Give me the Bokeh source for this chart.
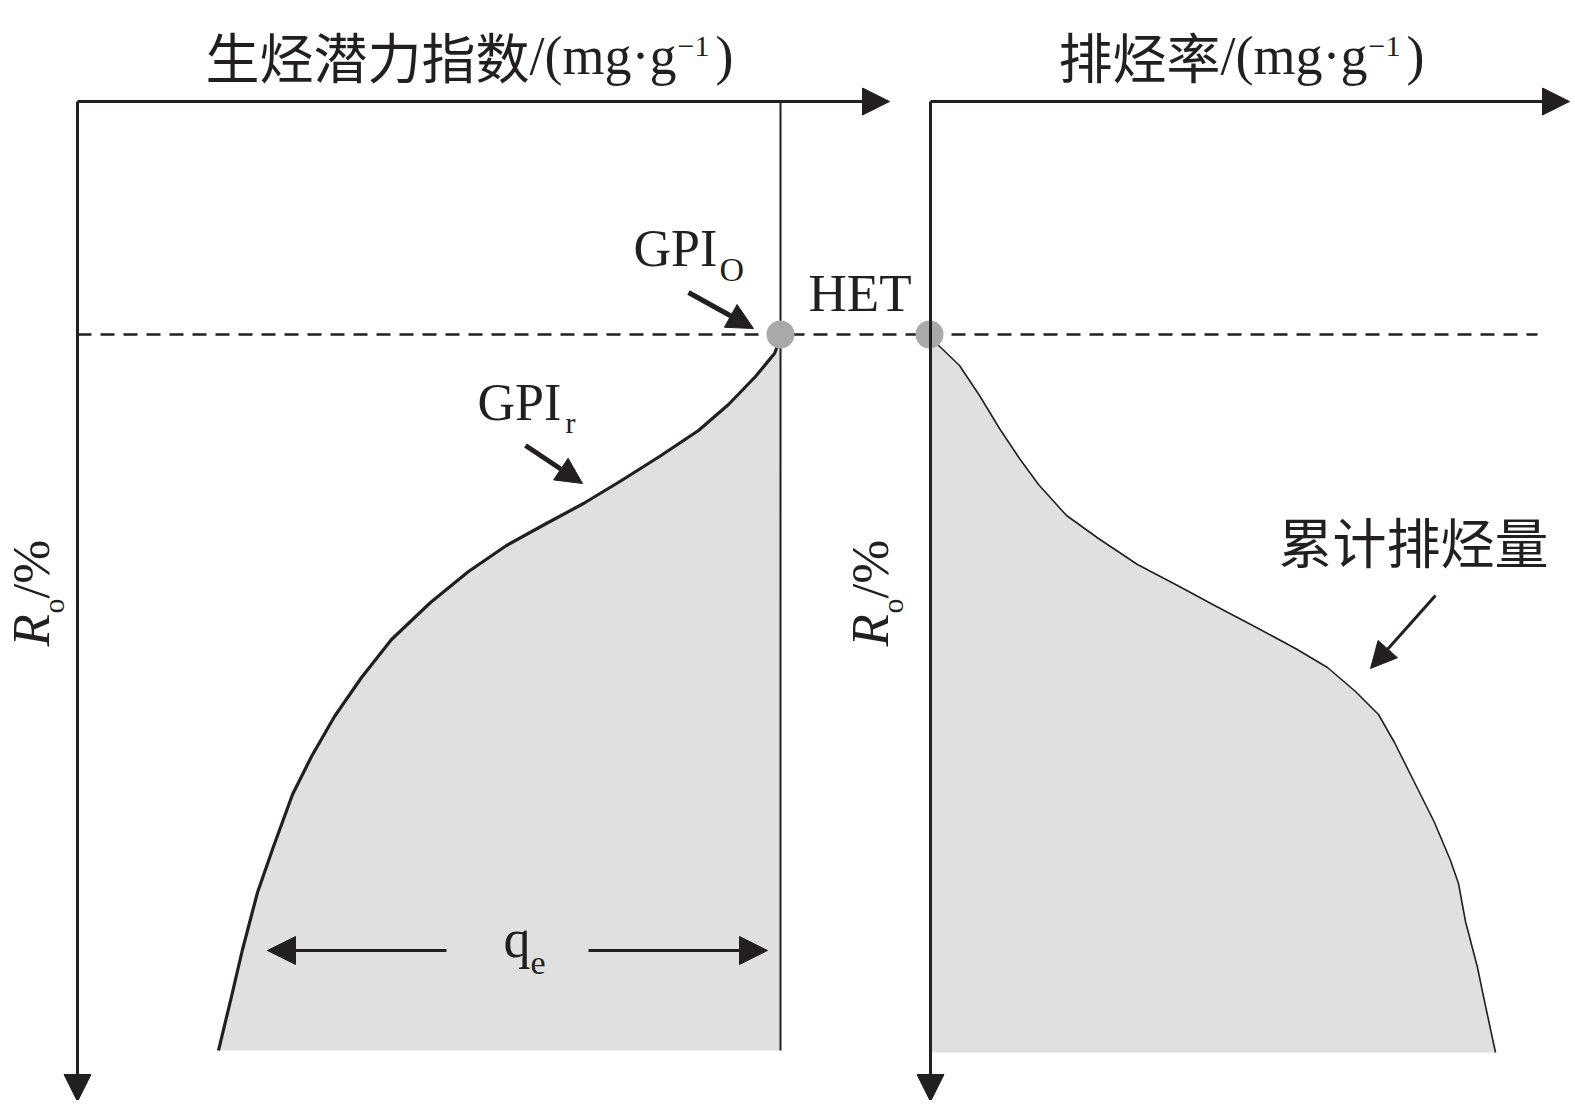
import math
from bokeh.plotting import figure
from bokeh.models import Range1d, Arrow, NormalHead
from bokeh.core.properties import value
from bokeh.embed import file_html
from bokeh.resources import INLINE

# ---------------- data (schematic, page-pixel coordinate frame) ----------------
# left panel: residual generation potential GPI_r curve (x = potential, y = Ro depth)
gpi_x = [781, 774, 755, 728, 698, 659, 621, 583, 544, 506, 468, 430, 391, 361, 334, 311,
         292, 273, 257, 242, 231, 218]
gpi_y = [335, 353, 376, 404, 430, 456, 480, 503, 524, 545, 571, 602, 639, 677, 716, 756,
         794, 846, 892, 949, 996, 1050]
gpi_original_x = 780          # GPI_O level (vertical line)
# right panel: cumulative expulsion curve
exp_x = [930, 934, 959, 979, 999, 1019, 1038, 1066, 1098, 1137, 1177, 1216, 1256, 1295, 1327,
         1355, 1378, 1394, 1414, 1434, 1450, 1458, 1465, 1477, 1483, 1489, 1495]
exp_y = [334, 341, 365, 395, 428, 458, 484, 515, 538, 564, 585, 606, 627, 648, 667,
         691, 714, 742, 782, 822, 860, 883, 921, 967, 996, 1024, 1052]
het_level = 334               # hydrocarbon expulsion threshold
bottom_left = 1050
bottom_right = 1052
left_origin = (77, 101)
right_origin = (930, 101)

# labels
title_left_cjk = "生烃潜力指数"
title_right_cjk = "排烃率"
unit_text = "/(mg·g"
unit_sup = "−1"
ro_main = "R"
ro_sub = "o"
ro_unit = "/%"

INK = "#231f20"
FILL = "#e0e0e0"
DOT = "#a9a9a9"
SERIF = value("Liberation Serif")
CJK = value("Noto Sans CJK SC")

W, H = 1570, 1100
p = figure(width=W, height=H, x_range=Range1d(0, W), y_range=Range1d(H, 0),
           output_backend="svg", toolbar_location=None, min_border=0,
           x_axis_location=None, y_axis_location=None)
p.grid.visible = False
p.outline_line_color = None
p.background_fill_color = "white"

# filled areas
p.patch(gpi_x + [gpi_original_x], gpi_y + [bottom_left], fill_color=FILL, line_color=None)
p.patch(exp_x + [exp_x[0]], exp_y + [bottom_right], fill_color=FILL, line_color=None)

# curves
p.line(gpi_x, gpi_y, line_color=INK, line_width=3.2, line_join="round")
p.line(exp_x, exp_y, line_color=INK, line_width=1.6, line_join="round")

# vertical GPI_O line
p.line([gpi_original_x, gpi_original_x], [left_origin[1], bottom_left], line_color=INK, line_width=2)

# dashed HET line
p.line([left_origin[0], 1537], [het_level, het_level], line_color=INK, line_width=2.5, line_dash="14 9")

def arrow(x0, y0, x1, y1, lw, size):
    p.add_layout(Arrow(end=NormalHead(size=size, fill_color=INK, line_color=INK, line_width=1),
                       x_start=x0, y_start=y0, x_end=x1, y_end=y1,
                       line_color=INK, line_width=lw))

# axes with arrows
arrow(left_origin[0], left_origin[1], 889, left_origin[1], 3, 27)
arrow(left_origin[0], left_origin[1], left_origin[0], 1101, 3, 27)
arrow(right_origin[0], right_origin[1], 1569, right_origin[1], 3, 27)
arrow(right_origin[0], right_origin[1], right_origin[0], 1101, 3, 27)

# dots at HET
p.scatter([gpi_original_x, right_origin[0] - 1], [het_level, het_level], size=28,
          fill_color=DOT, line_color=None)

# pointer arrows
arrow(688, 292, 753, 328, 5, 26)     # GPI_O
arrow(525, 445, 582, 483, 5, 26)     # GPI_r
arrow(1435, 595, 1370, 668, 3, 26)   # cumulative expulsion
arrow(446, 950, 267, 950, 3, 28)     # q_e left
arrow(588, 950, 767, 950, 3, 28)     # q_e right

# text helper: (x, y) is the alphabetic baseline start; anchored at the text middle
K = 0.38
def txt(x, y, s, size, font=SERIF, style="normal", rotated=False):
    if rotated:
        x, a = x - K * size, math.pi / 2
    else:
        y, a = y - K * size, 0
    p.text([x], [y], text=[s], text_font=font, text_font_size=f"{size}px", text_font_style=style,
           angle=a, text_color=INK, text_baseline="middle", text_align="left")

# titles
def title(x0, cjk):
    txt(x0, 76, cjk, 54, CJK)
    xl = x0 + 54 * len(cjk)
    txt(xl, 76, unit_text, 54)
    xs = xl + 148
    txt(xs, 57, unit_sup, 30)
    txt(xs + 38, 76, ")", 54)

title(205, title_left_cjk)
title(1058, title_right_cjk)

# Ro/% rotated labels (text reads upward)
def ro_label(xb, y_start):
    for dy, s, size, dx, style in [(0, ro_main, 53, 0, "italic"),
                                   (-33, ro_sub, 30, 13, "normal"),
                                   (-48, ro_unit, 53, 0, "normal")]:
        p.text([xb + dx - K * size], [y_start + dy], text=[s], text_font=SERIF, text_font_style=style,
               text_font_size=f"{size}px", angle=math.pi / 2, text_color=INK,
               text_baseline="middle", text_align="left")

ro_label(51, 646)
ro_label(890, 646)

# annotations
txt(633, 268, "GPI", 52)
txt(719, 282, "O", 34)
txt(477, 422, "GPI", 52)
txt(565, 433, "r", 30)
txt(503, 959, "q", 54)
txt(530, 975, "e", 34)
txt(808, 313, "HET", 53)
txt(1278, 561, "累计排烃量", 54, CJK)

open("out.html", "w").write(file_html(p, INLINE))
